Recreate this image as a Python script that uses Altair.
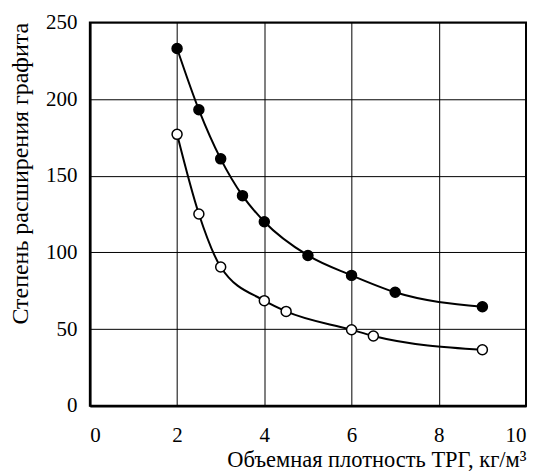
import altair as alt
import pandas as pd

filled_x = [2, 2.5, 3, 3.5, 4, 5, 6, 7, 9]
filled_y = [233, 193, 161, 137, 120, 98, 85, 74, 64.5]
open_x = [2, 2.5, 3, 4, 4.5, 6, 6.5, 9]
open_y = [177, 125, 90.5, 68.5, 61.5, 49.5, 45.5, 36.5]

df = pd.concat([
    pd.DataFrame({"x": filled_x, "y": filled_y, "s": "filled"}),
    pd.DataFrame({"x": open_x, "y": open_y, "s": "open"}),
])

font = "Liberation Serif"
xs = alt.Scale(domain=[0, 10], nice=False)
ys = alt.Scale(domain=[0, 250], nice=False)

xax = alt.Axis(values=[0, 2, 4, 6, 8, 10], title="Объемная плотность ТРГ, кг/м³",
               titleAnchor="end", labelPadding=19, titlePadding=3, ticks=False,
               labelFont=font, titleFont=font, labelFontSize=21, titleFontSize=22.5,
               grid=True, gridColor="black", gridOpacity=1, gridWidth=1,
               domainColor="black", domainWidth=2.5)
yax = alt.Axis(values=[0, 50, 100, 150, 200, 250], title="Степень расширения графита",
               titleAnchor="end", labelPadding=13, titlePadding=13, ticks=False,
               labelFont=font, titleFont=font, labelFontSize=21, titleFontSize=24,
               grid=True, gridColor="black", gridOpacity=1, gridWidth=1,
               domainColor="black", domainWidth=2.5)

base = alt.Chart(df)
lines = base.mark_line(color="black", strokeWidth=2, interpolate="monotone").encode(
    x=alt.X("x:Q", scale=xs, axis=xax),
    y=alt.Y("y:Q", scale=ys, axis=yax),
    detail="s:N",
)
pts = base.mark_point(filled=True, size=100, stroke="black", strokeWidth=1.5, opacity=1).encode(
    x=alt.X("x:Q", scale=xs),
    y=alt.Y("y:Q", scale=ys),
    fill=alt.Fill("s:N", scale=alt.Scale(domain=["filled", "open"], range=["black", "white"]), legend=None),
)

chart = (lines + pts).properties(
    width=437, height=384,
    padding={"left": 0, "top": 3, "right": 5, "bottom": 5},
).configure_view(
    stroke="black", strokeWidth=2
).configure_axis(
    labelColor="black", titleColor="black", titleFontWeight="normal"
)

chart.save("out.html", embed_options={"renderer": "svg", "actions": False})
